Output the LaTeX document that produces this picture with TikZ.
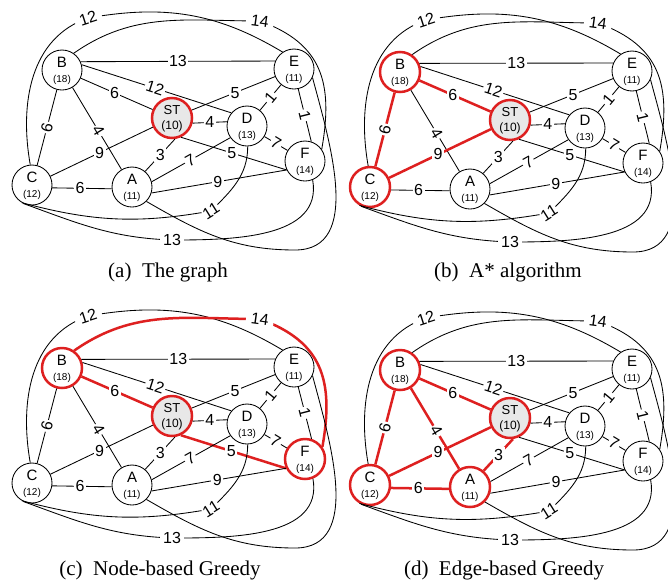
\documentclass[tikz,border=0pt]{standalone}
\usepackage{fontspec}
\setmainfont{Liberation Serif}
\setsansfont{Liberation Sans}
\definecolor{hlred}{RGB}{222,32,32}
\definecolor{stgray}{RGB}{232,232,232}
\newcommand\gnd[5]{%
  \node[gnode,n#2] (#1#2) at (#3) {};
  \node[letterlbl] (#1#2l) at ([yshift=8pt]#1#2.center) {#4};
  \node[numlbl] (#1#2n) at ([yshift=-10pt]#1#2.center) {#5};}
\newcommand\drawpanel[1]{%
  \gnd{#1}{B}{62,-70}{B}{(18)}
  \gnd{#1}{E}{294,-69}{E}{(11)}
  \gnd{#1}{D}{247,-126}{D}{(13)}
  \gnd{#1}{F}{305,-161}{F}{(14)}
  \gnd{#1}{C}{32,-185}{C}{(12)}
  \gnd{#1}{A}{132,-187}{A}{(11)}
  \node[gnode,nST] (#1ST) at (172,-118) {};
  \node[stlbl] (#1STl) at ([yshift=8pt]#1ST.center) {ST};
  \node[stnum] (#1STn) at ([yshift=-8pt]#1ST.center) {(10)};
  % straight edges
  \draw[eBE] (#1B.24) -- node[edgelbl] (#1lBE) {13} (#1E.157);
  \draw[eBD] (#1B.15) -- node[edgelbl,pos=0.49,sloped] (#1lBD) {12} (#1D.140);
  \draw[eBST] (#1B) -- node[edgelbl,pos=0.47] (#1lBST) {6} (#1ST);
  \draw[eBC] (#1B) -- node[edgelbl,sloped] (#1lBC) {6} (#1C);
  \draw[eBA] (#1B) -- node[edgelbl,pos=0.53,sloped] (#1lBA) {4} (#1A);
  \draw[eSTE] (#1ST) -- node[edgelbl,pos=0.52] (#1lSTE) {5} (#1E);
  \draw[eSTD] (#1ST.-14) -- node[edgelbl] (#1lSTD) {4} (#1D.168);
  \draw[eSTF] (#1ST.-65) -- node[edgelbl,pos=0.48] (#1lSTF) {5} (#1F.206);
  \draw[eSTC] (#1ST) -- node[edgelbl,pos=0.52] (#1lSTC) {9} (#1C);
  \draw[eSTA] (#1ST.-82) -- node[edgelbl,pos=0.49] (#1lSTA) {3} (#1A.50);
  \draw[eAD] (#1A.15) -- node[edgelbl,pos=0.49,sloped] (#1lAD) {7} (#1D.215);
  \draw[eAF] (#1A.-17) -- node[edgelbl,pos=0.49] (#1lAF) {9} (#1F.206);
  \draw[eCA] (#1C.-8) -- node[edgelbl,pos=0.47] (#1lCA) {6} (#1A.185);
  \draw[eDE] (#1D) -- node[edgelbl,sloped] (#1lDE) {1} (#1E);
  \draw[eEF] (#1E.-78) -- node[edgelbl,sloped] (#1lEF) {1} (#1F.72);
  \draw[eDF] (#1D) -- node[edgelbl,sloped] (#1lDF) {7} (#1F);
  % curved edges
  \draw[eCE] (#1C.95) to[out=100,in=199] (88,-18)
     node[edgelbl,inner xsep=5pt,rotate=18] (#1lCE) {12} to[out=10,in=149] (#1E.124);
  \draw[eBF] (#1B.55) to[out=35,in=180] (260,-21)
     node[edgelbl,inner xsep=5pt,rotate=-8] (#1lBF) {14} to[out=-20,in=80,looseness=1.2] (#1F.35);
  \draw[eCD] (#1C.-120) to[out=-15,in=190] (211,-211)
     node[edgelbl,inner sep=0.5pt,rotate=32] (#1lCD) {11} to[out=45,in=-90] (#1D.-88);
  \draw[eCF] (#1C.-115) to[out=-20,in=178] (172,-240)
     node[edgelbl,inner xsep=3pt] (#1lCF) {13} to[out=0,in=-80] (#1F.-68);
  \draw[eAE] (#1A.-45) to[out=-30,in=180] (295,-250) to[out=0,in=-75] (#1E.-25);
}
\begin{document}
\begin{tikzpicture}[x=1pt,y=1pt,
  gnode/.style={circle,draw,line width=0.85pt,minimum size=40pt,inner sep=0pt},
  hlnode/.style={draw=hlred,line width=2.5pt},
  letterlbl/.style={font=\fontsize{15}{15}\selectfont\sffamily,inner sep=0pt},
  numlbl/.style={font=\fontsize{10}{10}\selectfont\sffamily,inner sep=0pt},
  stlbl/.style={font=\fontsize{13}{13}\selectfont\sffamily,inner sep=0pt},
  stnum/.style={font=\fontsize{12}{12}\selectfont\sffamily,inner sep=0pt},
  edgeline/.style={draw=black,line width=0.85pt},
  hledge/.style={draw=hlred,line width=2.5pt},
  edgelbl/.style={font=\fontsize{16}{16}\selectfont\sffamily,fill=white,inner sep=1.5pt},
  captxt/.style={font=\fontsize{21}{21}\selectfont,inner sep=0pt},
  nB/.style={},nE/.style={},nD/.style={},nF/.style={},nC/.style={},nA/.style={},
  nST/.style={fill=stgray,hlnode},
  eBE/.style={edgeline},eBD/.style={edgeline},eBST/.style={edgeline},eBC/.style={edgeline},
  eBA/.style={edgeline},eSTE/.style={edgeline},eSTD/.style={edgeline},eSTF/.style={edgeline},
  eSTC/.style={edgeline},eSTA/.style={edgeline},eAD/.style={edgeline},eAF/.style={edgeline},
  eCA/.style={edgeline},eDE/.style={edgeline},eEF/.style={edgeline},eDF/.style={edgeline},
  eCE/.style={edgeline},eBF/.style={edgeline},eCD/.style={edgeline},eCF/.style={edgeline},
  eAE/.style={edgeline}]
\useasboundingbox[fill=white] (0,0) rectangle (668,-584);
% (a) the graph
\begin{scope}
  \drawpanel{a}
\end{scope}
% (b) A* algorithm
\begin{scope}[shift={(338,-2)},
  nB/.style={hlnode},nC/.style={hlnode},
  eBST/.style={hledge},eBC/.style={hledge},eSTC/.style={hledge}]
  \drawpanel{b}
\end{scope}
% (c) node-based greedy
\begin{scope}[shift={(0,-298)},
  nB/.style={hlnode},nF/.style={hlnode},
  eBST/.style={hledge},eSTF/.style={hledge},eBF/.style={hledge}]
  \drawpanel{c}
\end{scope}
% (d) edge-based greedy
\begin{scope}[shift={(338,-300)},
  nB/.style={hlnode},nC/.style={hlnode},nA/.style={hlnode},
  eBST/.style={hledge},eBC/.style={hledge},eBA/.style={hledge},
  eSTC/.style={hledge},eSTA/.style={hledge},eCA/.style={hledge}]
  \drawpanel{d}
\end{scope}
\node[captxt] (capa) at (168,-272) {(a)\ \ The graph};
\node[captxt] (capb) at (508,-272) {(b)\ \ A* algorithm};
\node[captxt] (capc) at (160,-570) {(c)\ \ Node-based Greedy};
\node[captxt] (capd) at (504,-570) {(d)\ \ Edge-based Greedy};
\end{tikzpicture}
\end{document}
